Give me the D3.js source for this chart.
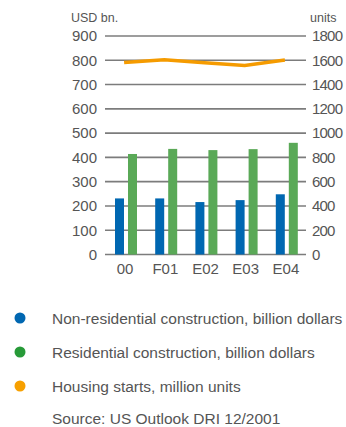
<!DOCTYPE html>
<html>
<head>
<meta charset="utf-8">
<script src="https://cdn.jsdelivr.net/npm/d3@7"></script>
<style>
  body { margin: 0; background: #fff; }
  text { font-family: "Liberation Sans", Arial, sans-serif; fill: #555; }
</style>
</head>
<body>
<div id="chart"></div>
<script>
// data
const years = ["00", "F01", "E02", "E03", "E04"];
const nonResidential = [231, 231, 216, 224, 248];
const residential = [414, 435, 430, 434, 460];
const housingStarts = [1582, 1604, 1580, 1558, 1602];
const leftTicks = [0, 100, 200, 300, 400, 500, 600, 700, 800, 900];
const rightTicks = [0, 200, 400, 600, 800, 1000, 1200, 1400, 1600, 1800];
const legendItems = [
    { label: "Non-residential construction, billion dollars", color: "#0067b1" },
    { label: "Residential construction, billion dollars", color: "#279a38" },
    { label: "Housing starts, million units", color: "#f7a000" }
];

const width = 346, height = 427;
const margin = { top: 36, right: 40, bottom: 173, left: 105 };
const innerW = width - margin.left - margin.right;
const innerH = 254.5 - margin.top;

const svg = d3.select("#chart").append("svg")
    .attr("width", width)
    .attr("height", height);

const g = svg.append("g")
    .attr("transform", `translate(${margin.left},${margin.top})`);

const x = d3.scaleBand().domain(years).range([0, innerW]);
const yL = d3.scaleLinear().domain([0, 900]).range([innerH, 0]);
const yR = d3.scaleLinear().domain([0, 1800]).range([innerH, 0]);

// gridlines
g.selectAll(".grid")
    .data(leftTicks)
    .join("line")
    .attr("x1", 0)
    .attr("x2", innerW)
    .attr("y1", d => yL(d))
    .attr("y2", d => yL(d))
    .attr("stroke", "#7c7c7c")
    .attr("stroke-width", 1.6);

// left axis labels
g.append("g")
    .call(d3.axisLeft(yL).tickValues(leftTicks).tickSize(0).tickPadding(8))
    .call(a => a.select(".domain").remove())
    .selectAll("text")
    .style("font-size", "15px")
    .attr("fill", "#555");

// right axis labels
g.append("g")
    .attr("transform", `translate(${innerW},0)`)
    .call(d3.axisRight(yR).tickValues(rightTicks).tickFormat(d3.format("d")).tickSize(0).tickPadding(6))
    .call(a => a.select(".domain").remove())
    .selectAll("text")
    .style("font-size", "15px")
    .style("letter-spacing", "-0.8px")
    .attr("fill", "#555");

// bottom labels
g.append("g")
    .attr("transform", `translate(0,${innerH})`)
    .call(d3.axisBottom(x).tickSize(0).tickPadding(9))
    .call(a => a.select(".domain").remove())
    .selectAll("text")
    .style("font-size", "15px")
    .attr("fill", "#555");

// unit labels
svg.append("text")
    .attr("x", 71)
    .attr("y", 22)
    .style("font-size", "12.5px")
    .text("USD bn.");

svg.append("text")
    .attr("x", 310)
    .attr("y", 22)
    .style("font-size", "12.5px")
    .text("units");

// bars
const barW = 9;
g.selectAll(".nonres")
    .data(nonResidential)
    .join("rect")
    .attr("x", (d, i) => x(years[i]) + 10)
    .attr("y", d => yL(d))
    .attr("width", barW)
    .attr("height", d => innerH - yL(d))
    .attr("fill", "#0067b1");

g.selectAll(".res")
    .data(residential)
    .join("rect")
    .attr("x", (d, i) => x(years[i]) + 23)
    .attr("y", d => yL(d))
    .attr("width", barW)
    .attr("height", d => innerH - yL(d))
    .attr("fill", "#5aa957");

// housing starts line
const line = d3.line()
    .x((d, i) => x(years[i]) + x.bandwidth() / 2 - 1)
    .y(d => yR(d));

g.append("path")
    .datum(housingStarts)
    .attr("d", line)
    .attr("fill", "none")
    .attr("stroke", "#f59b00")
    .attr("stroke-width", 3.5);

// legend
const legend = svg.append("g").attr("transform", "translate(0,318)");
legendItems.forEach((item, i) => {
    const row = legend.append("g").attr("transform", `translate(0,${i * 34})`);
    row.append("circle")
        .attr("cx", 20)
        .attr("cy", 0)
        .attr("r", 5.5)
        .attr("fill", item.color);
    row.append("text")
        .attr("x", 52)
        .attr("y", 5.5)
        .style("font-size", "15.5px")
        .text(item.label);
});

svg.append("text")
    .attr("x", 52)
    .attr("y", 424)
    .style("font-size", "15.5px")
    .text("Source: US Outlook DRI 12/2001");
</script>
</body>
</html>
